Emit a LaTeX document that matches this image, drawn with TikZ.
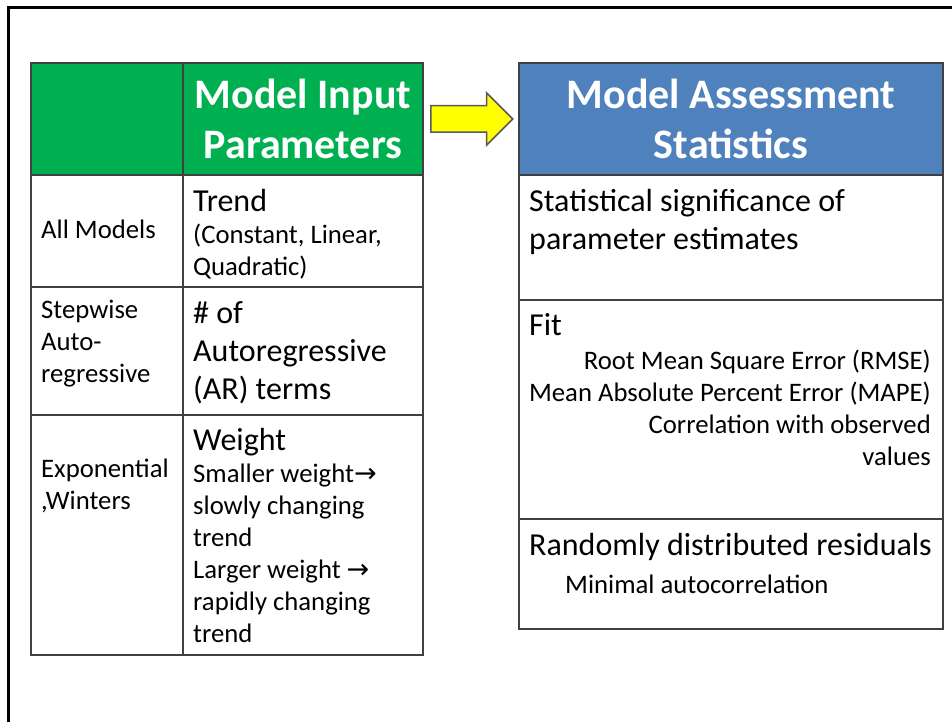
\documentclass[tikz,border=0pt]{standalone}
\usepackage{fontspec}
\setmainfont{Carlito}
\newfontfamily\arrowfont{DejaVu Sans}
\usetikzlibrary{positioning, fit, shapes.arrows}
\definecolor{tabgreen}{RGB}{0,176,80}
\definecolor{tabblue}{RGB}{79,129,189}
\definecolor{tabline}{RGB}{64,64,64}
\definecolor{arrowline}{RGB}{89,89,89}
\definecolor{arrowfill}{RGB}{255,255,0}
\newcommand{\tabhd}{\fontsize{42}{50}\selectfont}
\newcommand{\tabbig}{\fontsize{32}{38}\selectfont}
\newcommand{\tabsml}{\fontsize{26.7}{32}\selectfont}
\newcommand{\rarr}{{\arrowfont\fontsize{27}{32}\selectfont →}}

\begin{document}
\begin{tikzpicture}[
  x=1pt, y=-1pt,
  cell/.style={draw=tabline, line width=1.5pt, fill=white, inner sep=0pt, outer sep=0pt},
  hdcell/.style={cell, fill=#1},
  hdtext/.style={text=white, font=\tabhd\bfseries, align=center, inner sep=0pt},
  txt/.style={inner sep=0pt, anchor=base west, align=left},
  bigarrow/.style={single arrow, draw=arrowline, fill=arrowfill, line width=1.5pt,
                   inner xsep=0pt, inner ysep=12.5pt, single arrow head extend=13pt,
                   minimum height=82pt},
]
  \useasboundingbox (0,0) rectangle (952,722);
  \draw[line width=3pt] (8,722) -- (8,8) -- (952,8);

  % input table (multi-line texts sit on the baseline of their last line)
  \node[hdcell=tabgreen, fit={(31,63) (183,175)}] (hdA) {};
  \node[hdcell=tabgreen, fit={(183,63) (423,175)}] (hdB) {};
  \node[cell, fit={(31,175) (183,287)}] (allc) {};
  \node[cell, fit={(183,175) (423,287)}] (trendc) {};
  \node[cell, fit={(31,287) (183,415)}] (stepc) {};
  \node[cell, fit={(183,287) (423,415)}] (arc) {};
  \node[cell, fit={(31,415) (183,655)}] (expc) {};
  \node[cell, fit={(183,415) (423,655)}] (wgtc) {};

  \node[hdtext] (hdBt) at (hdB.center) {Model Input\\Parameters};
  \node[txt, font=\tabsml] (allm) at (41,238) {All Models};
  \node[txt, font=\tabbig] (trend) at (193,211) {Trend};
  \node[txt, font=\tabsml] (trendk) at (193,275) {(Constant, Linear,\\Quadratic)};
  \node[txt, font=\tabsml] (stepw) at (41,382) {Stepwise\\Auto-\\regressive};
  \node[txt, font=\tabbig] (arnum) at (193,399) {\# of\\Autoregressive\\(AR) terms};
  \node[txt, font=\tabsml] (expw) at (41,509) {Exponential\\,Winters};
  \node[txt, font=\tabbig] (wgt) at (193,450) {Weight};
  \node[txt, font=\tabsml] (wgtk) at (193,642)
    {Smaller weight\rarr\\slowly changing\\trend\\Larger weight \rarr\\rapidly changing\\trend};

  % assessment table
  \node[hdcell=tabblue, fit={(519,63) (943,175)}] (hdC) {};
  \node[cell, fit={(519,175) (943,300)}] (sigc) {};
  \node[cell, fit={(519,300) (943,519)}] (fitc) {};
  \node[cell, fit={(519,519) (943,629)}] (residc) {};

  \node[hdtext] (hdCt) at (hdC.center) {Model Assessment\\Statistics};
  \node[txt, font=\tabbig] (sig) at (529,249) {Statistical significance of\\parameter estimates};
  \node[txt, font=\tabbig] (fitlbl) at (529,335) {Fit};
  \node[txt, font=\tabsml, anchor=base east, align=right] (fitk) at (931,465)
    {Root Mean Square Error (RMSE)\\Mean Absolute Percent Error (MAPE)\\Correlation with observed\\values};
  \node[txt, font=\tabbig] (resid) at (529,555) {Randomly distributed residuals};
  \node[txt, font=\tabsml] (acor) at (565,593) {Minimal autocorrelation};

  \node[bigarrow, anchor=tail] (go) at ([xshift=7pt]hdB.east) {};
\end{tikzpicture}
\end{document}
